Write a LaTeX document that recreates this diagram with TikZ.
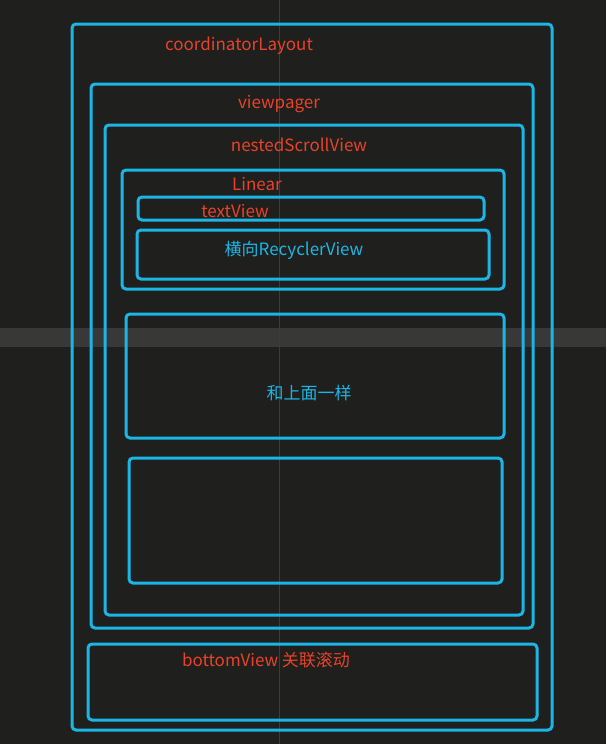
\documentclass[tikz,border=0pt]{standalone}
\usepackage{fontspec}
\setmainfont{Noto Sans CJK SC}
\usepackage{tikz}
\usetikzlibrary{positioning}
\definecolor{bg}{HTML}{1F1F1D}
\definecolor{band}{HTML}{383838}
\definecolor{guide}{HTML}{3C3C3A}
\definecolor{boxblue}{HTML}{1CB6E6}
\definecolor{labred}{HTML}{E8432A}
\tikzset{box/.style = {draw=boxblue,line width=3pt,rounded corners=4pt},
         redlab/.style = {text=labred,font=\fontsize{17}{20}\selectfont,inner sep=0pt},
         bluelab/.style = {text=boxblue,font=\fontsize{17}{20}\selectfont,inner sep=0pt}}

\begin{document}
\begin{tikzpicture}[x=1pt,y=-1pt]
                % background, grey band and guide line
                \fill [bg] (0,0) rectangle (606,744);
                \useasboundingbox (0,0) rectangle (606,744);
                \fill [band] (0,328) rectangle (606,347);
                \draw [guide,line width=0.8pt] (279,0) -- (279,744);
                % boxes
                \draw [box] (72,24) rectangle (552,730);
                \draw [box] (91,84) rectangle (533,628);
                \draw [box] (105,125) rectangle (523,615);
                \draw [box] (122,170) rectangle (504,289);
                \draw [box] (138,197) rectangle (484,220);
                \draw [box] (137,230) rectangle (489,279);
                \draw [box] (126,314) rectangle (504,438);
                \draw [box] (129,458) rectangle (502,583);
                \draw [box] (88,644) rectangle (537,720);
                % labels
                \node [redlab] (coord) at (239,46) {coordinatorLayout};
                \node [redlab] (pager) at (279,104) {viewpager};
                \node [redlab] (nested) at (299,145) {nestedScrollView};
                \node [redlab] (linear) at (257,184) {Linear};
                \node [redlab] (text) at (235,211) {textView};
                \node [bluelab] (recycler) at (294,250) {横向RecyclerView};
                \node [bluelab] (same) at (309,393) {和上面一样};
                \node [redlab] (bottom) at (266,660) {bottomView 关联滚动};
            \end{tikzpicture}
\end{document}
